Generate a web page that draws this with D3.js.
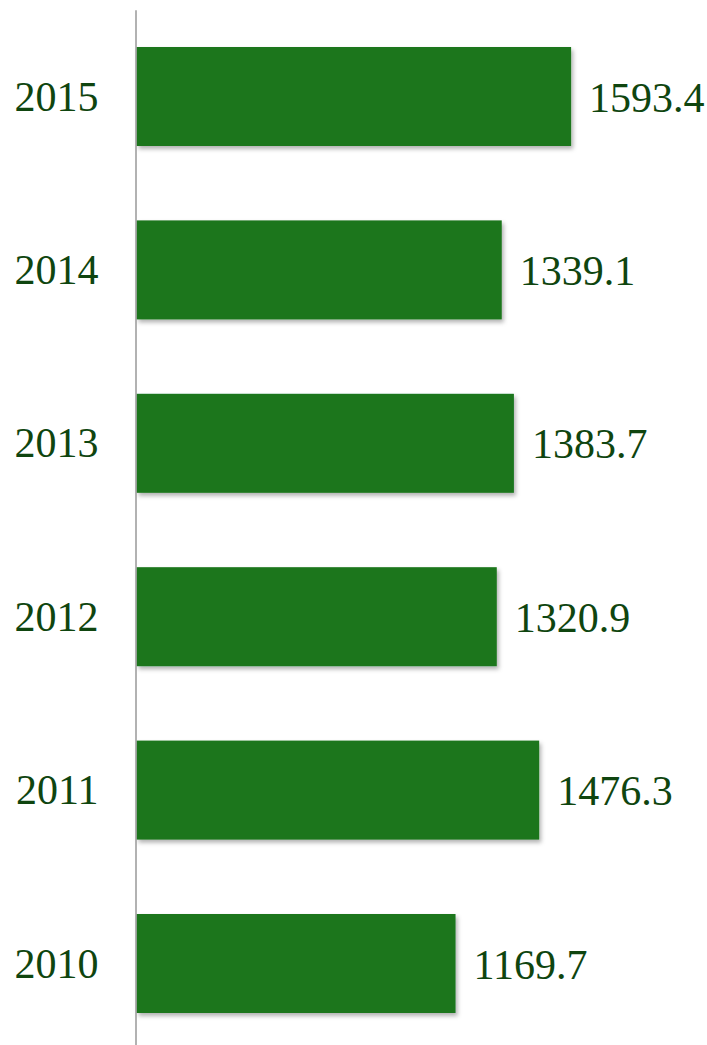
<!DOCTYPE html>
<html lang="en">
<head>
    <meta charset="UTF-8">
    <title>Bar chart</title>
    <style type="text/css">
        body { margin: 0; background: #fff; }
        .axis path { fill: none; stroke: #999; stroke-width: 1.5; }
        .axis line { display: none; }
        .axis text, .val {
            font-family: "Liberation Serif", "Times New Roman", serif;
            font-size: 42px;
            fill: #0f450f;
        }
    </style>
</head>
<body>
<script src="https://cdn.jsdelivr.net/npm/d3@7/dist/d3.min.js"></script>
<script>
    var width = 707,
        height = 1045

    // data
    var years = ['2015', '2014', '2013', '2012', '2011', '2010']
    var values = [1593.4, 1339.1, 1383.7, 1320.9, 1476.3, 1169.7]

    var svg = d3.select('body')
        .append('svg')
        .attr('width', width)
        .attr('height', height)

    // bar shadow
    var defs = svg.append('defs')
    defs.append('filter')
        .attr('id', 'shadow')
        .attr('x', '-10%').attr('y', '-10%')
        .attr('width', '120%').attr('height', '130%')
        .append('feDropShadow')
        .attr('dx', 2)
        .attr('dy', 3)
        .attr('stdDeviation', 2)
        .attr('flood-color', '#000')
        .attr('flood-opacity', 0.3)

    var x = d3.scaleLinear()
        .domain([0, 2000])
        .range([136.5, 682])

    var y = d3.scaleBand()
        .domain(years)
        .range([9.8, 1050.2])
        .paddingInner(0.429)
        .paddingOuter(0.2145)

    // bars
    svg.selectAll('.bar')
        .data(values)
        .enter()
        .append('rect')
        .attr('class', 'bar')
        .attr('x', x(0))
        .attr('y', (d, i) => y(years[i]))
        .attr('width', d => x(d) - x(0))
        .attr('height', y.bandwidth())
        .attr('fill', '#1b761d')
        .attr('filter', 'url(#shadow)')

    // value labels
    svg.selectAll('.val')
        .data(values)
        .enter()
        .append('text')
        .attr('class', 'val')
        .attr('x', d => x(d) + 18)
        .attr('y', (d, i) => y(years[i]) + y.bandwidth() / 2 + 15)
        .text(d => d.toFixed(1))

    // y axis
    var yAxis = d3.axisLeft(y)
        .tickSize(0)
        .tickPadding(37)
        .tickSizeOuter(0)

    svg.append('g')
        .attr('class', 'axis')
        .attr('transform', 'translate(135.5,0)')
        .call(yAxis)
        .call(g => g.selectAll('text').attr('dy', 0).attr('y', 14))
</script>
</body>
</html>
